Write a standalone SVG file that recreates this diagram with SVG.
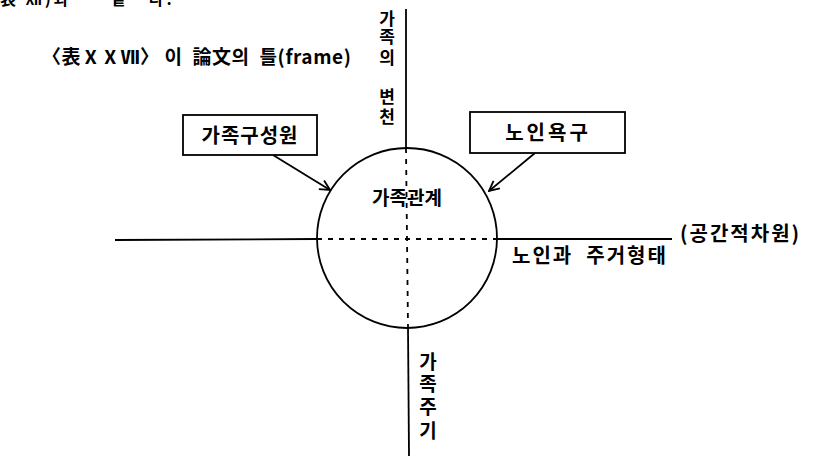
<svg xmlns="http://www.w3.org/2000/svg" width="814" height="460" viewBox="0 0 814 460">
<style>
.t{font-family:"Noto Sans CJK KR","Noto Sans",sans-serif;font-weight:700;fill:#000}
.ln{stroke:#000;stroke-width:1.8;fill:none}
.ds{stroke:#000;stroke-width:1.8;fill:none;stroke-dasharray:5,6}
.bx{fill:#fff;stroke:#000;stroke-width:1.8}
.v{font-size:17px;text-anchor:middle}
.v2{font-size:19px;text-anchor:middle}
</style>
<defs>
<marker id="ah" viewBox="0 0 12 12" refX="11" refY="6" markerWidth="12" markerHeight="12" markerUnits="userSpaceOnUse" orient="auto">
<polyline points="1,1 11,6 1,11" fill="none" stroke="#000" stroke-width="1.8"/>
</marker>
</defs>
<rect width="814" height="460" fill="#fff"/>
<text class="t" x="0" y="5" font-size="16" letter-spacing="3" xml:space="preserve">表 Ⅻ)과      같   다.</text>
<text class="t" x="42" y="64" font-size="19" letter-spacing="0.6" xml:space="preserve">〈表ⅩⅩⅦ〉 이  論文의  틀(frame)</text>
<g id="connectors">
<line class="ln" x1="406" y1="9" x2="406" y2="148"/>
<line class="ln" x1="408" y1="327" x2="409" y2="456"/>
<line class="ln" x1="115" y1="240" x2="317" y2="239"/>
<line class="ln" x1="497" y1="239" x2="672" y2="239"/>
<line class="ds" x1="406" y1="148" x2="408" y2="327"/>
<line class="ds" x1="317" y1="239" x2="497" y2="239"/>
<line class="ln" x1="273" y1="155" x2="330" y2="190" marker-end="url(#ah)"/>
<line class="ln" x1="535" y1="153" x2="489" y2="191" marker-end="url(#ah)"/>
</g>
<g id="circle">
<circle class="ln" cx="407" cy="238" r="90"/>
<text class="t" x="407" y="205" font-size="19" text-anchor="middle">가족관계</text>
</g>
<g id="box1">
<rect class="bx" x="183" y="115" width="134" height="40"/>
<text class="t" x="250" y="143" font-size="20" text-anchor="middle" letter-spacing="1">가족구성원</text>
</g>
<g id="box2">
<rect class="bx" x="470" y="112" width="155" height="41"/>
<text class="t" x="548" y="140" font-size="20" text-anchor="middle" letter-spacing="3">노인욕구</text>
</g>
<g id="top-label">
<text class="t v" x="387" y="25">가</text>
<text class="t v" x="387" y="43">족</text>
<text class="t v" x="387" y="64">의</text>
<text class="t v" x="387" y="103">변</text>
<text class="t v" x="387" y="123">천</text>
</g>
<g id="bottom-label">
<text class="t v2" x="428" y="369">가</text>
<text class="t v2" x="428" y="391">족</text>
<text class="t v2" x="428" y="414">주</text>
<text class="t v2" x="428" y="438">기</text>
</g>
<g id="right-label">
<text class="t" x="512" y="263" font-size="20" letter-spacing="2" xml:space="preserve">노인과  주거형태</text>
<text class="t" x="680" y="241" font-size="20" letter-spacing="2">(공간적차원)</text>
</g>
</svg>
